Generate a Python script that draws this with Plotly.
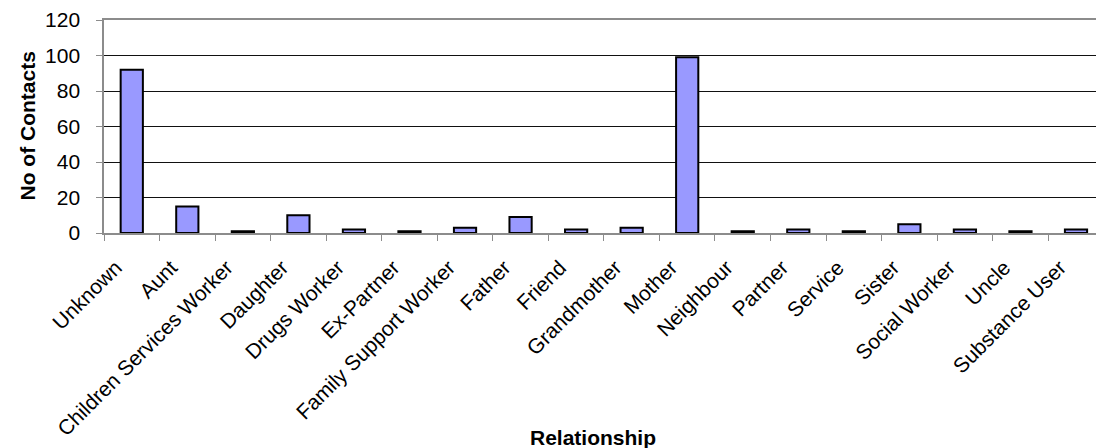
import plotly.graph_objects as go

# Contacts per relationship type
relationships = [
    "Unknown", "Aunt", "Children Services Worker", "Daughter", "Drugs Worker",
    "Ex-Partner", "Family Support Worker", "Father", "Friend", "Grandmother",
    "Mother", "Neighbour", "Partner", "Service", "Sister", "Social Worker",
    "Uncle", "Substance User",
]
contacts = [92, 15, 1, 10, 2, 1, 3, 9, 2, 3, 99, 1, 2, 1, 5, 2, 1, 2]

y_ticks = [0, 20, 40, 60, 80, 100, 120]

FONT = "Liberation Sans, Arial, sans-serif"
AXIS_GREY = "#8c8c8c"
# padding between the value labels and the axis ticks
LABEL_PAD = "\u00a0\u00a0"

fig = go.Figure(
    go.Bar(
        x=relationships,
        y=contacts,
        width=0.4,
        marker=dict(color="#9999FF", line=dict(color="#000000", width=2)),
    )
)

fig.update_layout(
    width=1096,
    height=448,
    margin=dict(l=104, r=0, t=20, b=215),
    paper_bgcolor="white",
    plot_bgcolor="white",
    showlegend=False,
    font=dict(family=FONT, size=21, color="#000000"),
    bargap=0.6,
)

fig.update_xaxes(
    type="category",
    range=[-0.5, 17.36],
    tickangle=-45,
    tickson="boundaries",
    ticks="outside",
    ticklen=6,
    tickwidth=1,
    tickcolor=AXIS_GREY,
    showline=True,
    linecolor=AXIS_GREY,
    linewidth=2,
    mirror=True,
    showgrid=False,
    tickfont=dict(family=FONT, size=21),
    ticklabelstandoff=12,
    ticklabelshift=-16,
)

fig.update_yaxes(
    range=[0, 120],
    tickvals=y_ticks,
    ticktext=[f"{v}{LABEL_PAD}" for v in y_ticks],
    ticks="outside",
    ticklen=6,
    tickwidth=1,
    tickcolor=AXIS_GREY,
    showline=True,
    linecolor=AXIS_GREY,
    linewidth=2,
    showgrid=True,
    gridcolor="#111111",
    gridwidth=1,
    zeroline=False,
    tickfont=dict(family=FONT, size=21),
)

# Axis titles
fig.add_annotation(
    text="<b>Relationship</b>",
    xref="paper", yref="paper",
    x=0.493, y=-0.958,
    xanchor="center", yanchor="middle",
    showarrow=False,
    font=dict(family=FONT, size=21),
)
fig.add_annotation(
    text="<b>No of Contacts</b>",
    xref="paper", yref="paper",
    x=-0.0776, y=0.5,
    xanchor="center", yanchor="middle",
    textangle=-90,
    showarrow=False,
    font=dict(family=FONT, size=21),
)

fig.write_html("out.html")
